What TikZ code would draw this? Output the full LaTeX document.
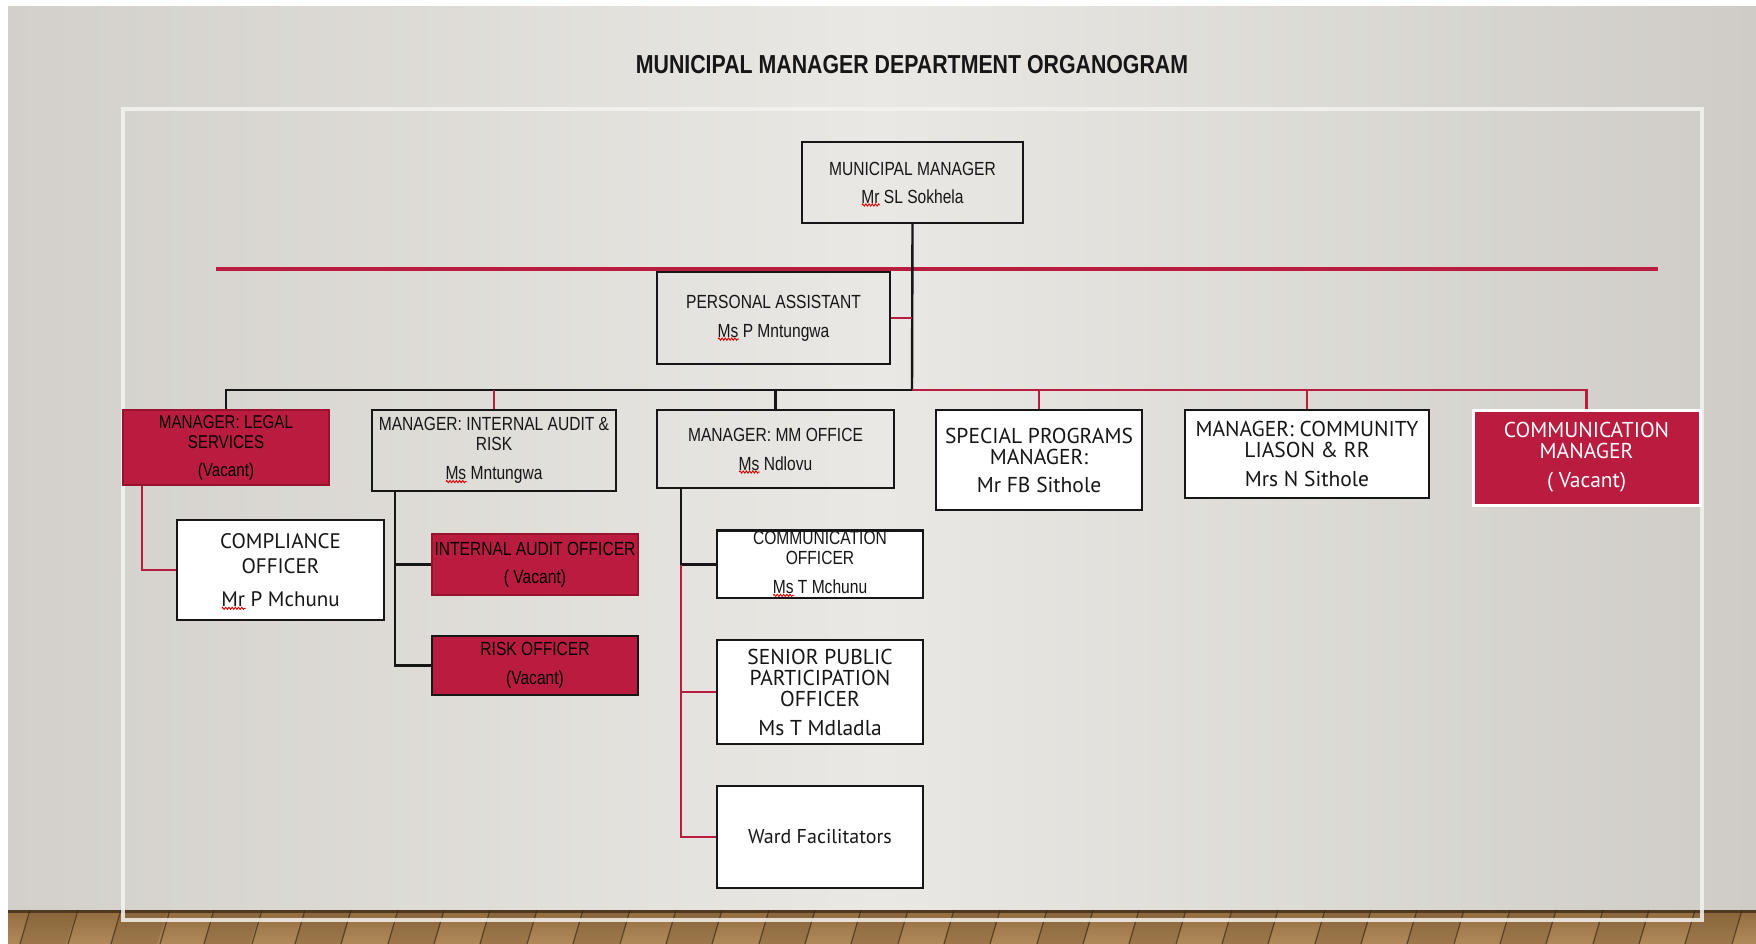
\documentclass[tikz,border=0pt]{standalone}
\usepackage{fontspec}
\newfontfamily\nar[FakeStretch=0.82]{Liberation Sans}
\newfontfamily\gil{PT Sans}
\usetikzlibrary{decorations.pathmorphing}
\definecolor{crim}{RGB}{185,28,62}
\definecolor{crimD}{RGB}{150,18,45}
\definecolor{ink}{RGB}{22,22,22}
\definecolor{wallL}{RGB}{211,208,203}
\definecolor{wallM}{RGB}{234,232,228}
\definecolor{wallR}{RGB}{207,204,199}
\definecolor{woodA}{RGB}{146,108,64}
\definecolor{woodB}{RGB}{176,138,90}
\definecolor{woodC}{RGB}{122,88,50}
\definecolor{woodD}{RGB}{60,40,20}
\definecolor{frame}{RGB}{244,243,240}
% spell-check squiggle under a word
\newsavebox\sqbox
\newcommand\sq[1]{\sbox\sqbox{#1}\makebox[0pt][l]{\raisebox{-3.5pt}[0pt][0pt]{\tikz\draw[red!85!black,line width=0.9pt,decorate,decoration={zigzag,amplitude=1.1pt,segment length=3.2pt}] (0pt,0pt)--(\the\wd\sqbox,0pt);}}\usebox\sqbox}
\newcommand\narsz{\nar\fontsize{19}{20}\selectfont}
\newcommand\gilsz{\gil\fontsize{21.5}{21}\selectfont}
\begin{document}
\begin{tikzpicture}[x=1pt,y=-1pt,
  box/.style={draw=ink,line width=2.4pt,inner sep=0pt,align=center,text=ink},
  wbox/.style={box,fill=white},
  rbox/.style={box,fill=crim,draw=crimD,line width=1.6pt,text=black},
  blk/.style={draw=ink,line width=2.4pt},
  redln/.style={draw=crim,line width=2.4pt}]
\useasboundingbox (0,0) rectangle (1756,944);
% wall and floor
\fill[white] (0,0) rectangle (1756,944);
\shade[left color=wallL,right color=wallR,middle color=wallM] (8,7) rectangle (1756,910);
\shade[top color=woodA,bottom color=woodB] (8,910) rectangle (1756,944);
\foreach \x [count=\i] in {30,78,121,170,214,262,305,351,398,444,490,537,583,630,676,722,769,815,861,908,954,1000,1047,1093,1139,1186,1232,1278,1325,1371,1417,1464,1510,1556,1603,1649,1695,1742}{
  \ifodd\i \fill[woodC,opacity=0.35] (\x,913) -- (\x+46,913) -- (\x+36,944) -- (\x-10,944) -- cycle; \fi
  \draw[woodD,line width=1.2pt,opacity=0.7] (\x,910) -- (\x-10,944);}
\fill[woodD,opacity=0.75] (8,910) rectangle (1756,913);
\draw[frame,line width=3.5pt,opacity=0.85] (123,109) rectangle (1702,920);
% title
\node[font=\nar\bfseries\fontsize{26}{28}\selectfont,text=ink] (title) at (912,65) {MUNICIPAL MANAGER DEPARTMENT ORGANOGRAM};
% red rule
\coordinate (rl) at (216,269);
\coordinate (rr) at (1658,269);
\draw[crim,line width=4.5pt] (rl) -- (rr);
% top level
\node[box,minimum width=221,minimum height=81,font=\narsz] (mm) at (912.5,182.5) {MUNICIPAL MANAGER\\[8pt]\sq{Mr} SL Sokhela};
\node[box,minimum width=233,minimum height=92,font=\narsz] (pa) at (773.5,318) {PERSONAL ASSISTANT\\[9pt]\sq{Ms} P Mntungwa};
% second level
\node[rbox,minimum width=206,minimum height=75,font=\nar\fontsize{18.5}{20}\selectfont] (legal) at (226,447.5) {MANAGER: LEGAL\\SERVICES\\[8pt](Vacant)};
\node[box,minimum width=244,minimum height=81,font=\narsz] (ia) at (494,450.5) {MANAGER: INTERNAL AUDIT \&\\RISK\\[9pt]\sq{Ms} Mntungwa};
\node[box,minimum width=237,minimum height=78,font=\narsz] (mmo) at (775.5,449) {MANAGER: MM OFFICE\\[9pt]\sq{Ms} Ndlovu};
\node[wbox,minimum width=206,minimum height=100,font=\gilsz] (spm) at (1039,460) {SPECIAL PROGRAMS\\MANAGER:\\[7pt]Mr FB Sithole};
\node[wbox,minimum width=244,minimum height=88,font=\gilsz] (com) at (1307,454) {MANAGER: COMMUNITY\\LIASON \& RR\\[8pt]Mrs N Sithole};
\node[box,fill=crim,draw=white,line width=3pt,text=white,minimum width=227,minimum height=95,font=\gilsz] (cm) at (1586.5,457.5) {COMMUNICATION\\MANAGER\\[8pt]( Vacant)};
% third level
\node[wbox,minimum width=207,minimum height=100,font=\gil\fontsize{21}{25}\selectfont] (comp) at (280.5,570) {COMPLIANCE\\OFFICER\\[8pt]\sq{Mr} P Mchunu};
\node[rbox,minimum width=206,minimum height=61,font=\narsz] (iao) at (535,564.5) {INTERNAL AUDIT OFFICER\\[8pt]( Vacant)};
\node[rbox,draw=ink,line width=2.4pt,minimum width=206,minimum height=59,font=\narsz] (risk) at (535,665.5) {RISK OFFICER\\[9pt](Vacant)};
\node[wbox,minimum width=206,minimum height=67] (co) at (820,564.5) {};
\node[font=\narsz,align=center,text=ink,inner sep=0pt,anchor=north] (cot) at (820,531) {COMMUNICATION\\OFFICER\\[9pt]\sq{Ms} T Mchunu};
\draw[blk] (co.north west) -- (co.north east);
\node[wbox,minimum width=206,minimum height=104,font=\gilsz] (spo) at (820,692) {SENIOR PUBLIC\\PARTICIPATION\\OFFICER\\[8pt]Ms T Mdladla};
\node[wbox,minimum width=206,minimum height=102,font=\gil\fontsize{20}{21}\selectfont] (ward) at (820,837) {Ward Facilitators};
% connectors from the municipal manager
\coordinate (hub) at (912,390);
\draw[blk] (mm.south) -- (hub);
\draw[redln] (pa.east) -- (pa.east -| hub);
\draw[blk] (legal.north) -- (legal.north |- hub) -- (hub);
\draw[redln] (hub) -- (cm.north |- hub) -- (cm.north);
\draw[redln] (ia.north |- hub) -- (ia.north);
\draw[blk] (mmo.north |- hub) -- (mmo.north);
\draw[redln] (spm.north |- hub) -- (spm.north);
\draw[redln] (com.north |- hub) -- (com.north);
% legal services branch
\coordinate (lx) at ([xshift=20pt]legal.south west);
\draw[redln] (lx) |- (comp.west);
% internal audit branch
\coordinate (ix) at ([xshift=24pt]ia.south west);
\draw[blk] (ix) |- (risk.west);
\draw[blk] (ix |- iao.west) -- (iao.west);
% mm office branch
\coordinate (mx) at ([xshift=25pt]mmo.south west);
\draw[blk] (mx) |- (co.west);
\draw[redln] (mx |- co.west) |- (ward.west);
\draw[redln] (mx |- spo.west) -- (spo.west);
\end{tikzpicture}
\end{document}
